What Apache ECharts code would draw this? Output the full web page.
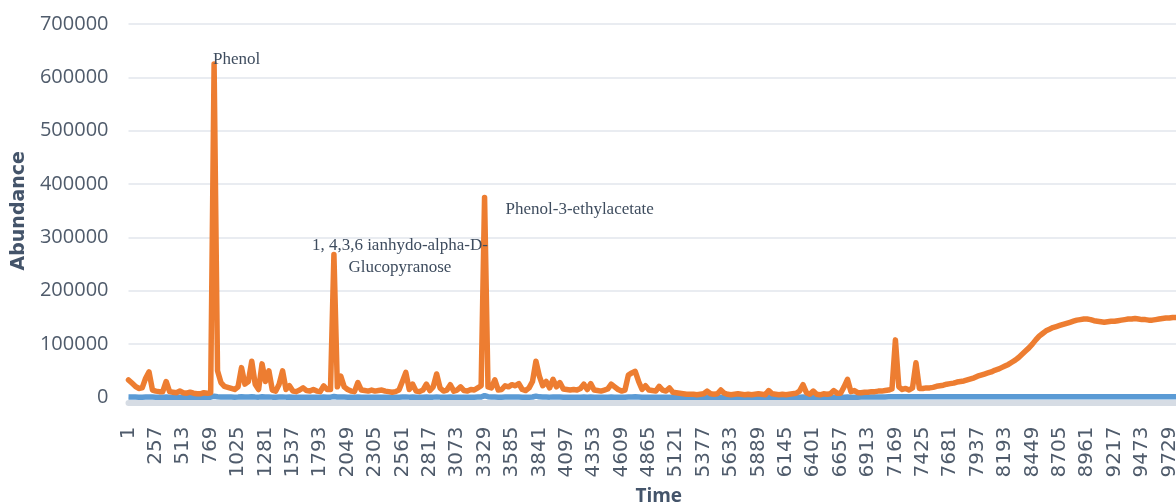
<!DOCTYPE html>
<html>
<head>
<meta charset="utf-8">
<script src="https://cdn.jsdelivr.net/npm/echarts@6/dist/echarts.min.js"></script>
<style>html,body{margin:0;padding:0;background:#fff;}#c{width:1176px;height:504px;}</style>
</head>
<body>
<div id="c"></div>
<script>
// sample grid of the time axis (every 32nd scan, starting at scan 1)
const timeStart = 1;
const timeStep = 32;
const sampleCount = 309;

// tick labels shown on the time axis
const tickLabels = [1,257,513,769,1025,1281,1537,1793,2049,2305,2561,2817,3073,3329,3585,3841,4097,4353,4609,4865,5121,5377,5633,5889,6145,6401,6657,6913,7169,7425,7681,7937,8193,8449,8705,8961,9217,9473,9729];

// orange series (abundance), one value per sample
const abundanceA = [
  33000, 27000, 21000, 17000, 18000, 36000, 48000, 14000, 12000, 11000,
  11000, 30000, 11000, 10000, 9000, 12000, 9000, 8000, 10000, 8000,
  7000, 7000, 9000, 8000, 9000, 625000, 50000, 28000, 21000, 19000,
  17000, 15000, 20000, 56000, 25000, 30000, 68000, 25000, 15000, 63000,
  30000, 50000, 14000, 12000, 25000, 50000, 15000, 22000, 12000, 11000,
  14000, 18000, 13000, 12000, 15000, 12000, 11000, 22000, 15000, 15000,
  268000, 20000, 40000, 20000, 15000, 12000, 11000, 28000, 14000, 13000,
  12000, 14000, 12000, 13000, 14000, 12000, 11000, 10000, 11000, 14000,
  30000, 47000, 15000, 25000, 12000, 11000, 14000, 25000, 13000, 20000,
  44000, 18000, 12000, 14000, 24000, 12000, 14000, 20000, 13000, 12000,
  15000, 14000, 18000, 22000, 375000, 20000, 18000, 33000, 14000, 15000,
  22000, 20000, 24000, 22000, 26000, 15000, 13000, 18000, 30000, 68000,
  40000, 22000, 30000, 18000, 34000, 20000, 28000, 16000, 15000, 14000,
  15000, 14000, 17000, 25000, 15000, 26000, 14000, 13000, 12000, 14000,
  16000, 25000, 20000, 15000, 12000, 14000, 42000, 46000, 49000, 30000,
  15000, 22000, 14000, 13000, 12000, 21000, 14000, 12000, 18000, 10000,
  9000, 8000, 7000, 6000, 6000, 6000, 5000, 6000, 7000, 12000,
  7000, 6000, 7000, 14000, 8000, 6000, 5000, 6000, 7000, 6000,
  5000, 6000, 5000, 6000, 7000, 6000, 5000, 13000, 7000, 6000,
  5000, 6000, 5000, 6000, 7000, 8000, 12000, 24000, 9000, 6000,
  12000, 6000, 5000, 7000, 6000, 7000, 13000, 8000, 8000, 20000,
  34000, 11000, 13000, 9000, 9000, 10000, 10000, 11000, 11000, 12000,
  12000, 13000, 14000, 16000, 108000, 20000, 15000, 17000, 14000, 18000,
  65000, 17000, 17000, 18000, 18000, 19000, 21000, 22000, 23000, 25000,
  26000, 27000, 29000, 30000, 31000, 33000, 35000, 37000, 40000, 42000,
  44000, 46000, 48000, 51000, 53000, 56000, 59000, 62000, 66000, 70000,
  75000, 81000, 87000, 93000, 100000, 108000, 115000, 120000, 125000, 128000,
  131000, 133000, 135000, 137000, 139000, 141000, 143000, 145000, 146000, 147000,
  147000, 146000, 144000, 143000, 142000, 141000, 142000, 143000, 143000, 144000,
  145000, 146000, 147000, 147000, 148000, 147000, 146000, 146000, 145000, 145000,
  146000, 147000, 148000, 149000, 149000, 150000, 150000, 151000, 151000
];

// blue series (baseline), one value per sample
const abundanceB = [
  900, 800, 800, 700, 700, 900, 1000, 800, 700, 700,
  700, 800, 700, 600, 600, 700, 600, 600, 600, 600,
  600, 500, 500, 600, 700, 2500, 1500, 1000, 900, 800,
  800, 700, 800, 1200, 800, 900, 1300, 900, 700, 1200,
  900, 1000, 700, 700, 800, 1000, 700, 800, 700, 600,
  700, 700, 600, 600, 700, 600, 600, 800, 700, 700,
  1800, 800, 1000, 800, 700, 600, 600, 800, 600, 600,
  600, 700, 600, 600, 600, 600, 500, 500, 600, 600,
  800, 1000, 700, 800, 600, 600, 600, 800, 600, 700,
  1000, 700, 600, 600, 800, 600, 600, 700, 600, 600,
  700, 700, 800, 900, 3500, 1500, 900, 900, 700, 700,
  800, 800, 800, 800, 900, 700, 600, 700, 900, 2500,
  1200, 800, 900, 700, 1000, 800, 900, 700, 700, 600,
  700, 600, 700, 800, 700, 800, 600, 600, 600, 600,
  700, 800, 700, 700, 600, 600, 1000, 1100, 1200, 900,
  700, 700, 600, 600, 600, 700, 600, 600, 600, 500,
  500, 500, 400, 400, 400, 400, 400, 500, 500, 600,
  500, 400, 500, 600, 500, 400, 400, 400, 500, 400,
  400, 400, 400, 400, 500, 400, 400, 600, 500, 400,
  400, 400, 400, 400, 500, 500, 600, 800, 500, 400,
  600, 400, 400, 500, 400, 500, 600, 500, 500, 700,
  900, 600, 700, 700, 800, 900, 1000, 1000, 1000, 1100,
  1100, 1100, 1200, 1300, 1500, 1300, 1200, 1200, 1200, 1200,
  1300, 1200, 1200, 1200, 1200, 1200, 1200, 1200, 1200, 1200,
  1200, 1200, 1200, 1200, 1200, 1200, 1200, 1200, 1200, 1200,
  1200, 1200, 1200, 1200, 1200, 1200, 1200, 1200, 1200, 1200,
  1200, 1200, 1200, 1200, 1200, 1200, 1200, 1200, 1200, 1200,
  1200, 1200, 1200, 1200, 1200, 1200, 1200, 1200, 1200, 1200,
  1200, 1200, 1200, 1200, 1200, 1200, 1200, 1200, 1200, 1200,
  1200, 1200, 1200, 1200, 1200, 1200, 1200, 1200, 1200, 1200,
  1200, 1200, 1200, 1200, 1200, 1200, 1200, 1200, 1200
];

// peak annotations
const peakNames = ['Phenol', '1, 4,3,6 ianhydo-alpha-D-\nGlucopyranose', 'Phenol-3-ethylacetate'];
const peakIndex = [25, 60, 104];

const categories = [];
for (let i = 0; i < sampleCount; i++) categories.push(String(timeStart + i * timeStep));
const tickSet = new Set(tickLabels.map(String));

const labelColor = '#4F5B6B';
const annColor = '#3E4C5E';
const annStyles = [
  {align: 'left', verticalAlign: 'middle', offset: [-1, -4]},
  {align: 'center', verticalAlign: 'middle', offset: [66, 2], lineHeight: 22},
  {align: 'left', verticalAlign: 'middle', offset: [21, 12]}
];

const markData = peakIndex.map((idx, k) => ({
  coord: [idx, abundanceA[idx]],
  symbol: 'circle',
  symbolSize: 0,
  label: Object.assign({
    show: true,
    position: 'inside',
    formatter: peakNames[k],
    color: annColor,
    fontFamily: '"Liberation Serif", "Times New Roman", serif',
    fontSize: 17
  }, annStyles[k])
}));

const chart = echarts.init(document.getElementById('c'), null, {renderer: 'canvas'});
chart.setOption({
  animation: false,
  backgroundColor: '#ffffff',
  grid: {left: 128.5, right: -7, top: 24, bottom: 106.5, containLabel: false, outerBoundsMode: 'none'},
  xAxis: {
    type: 'category',
    data: categories,
    boundaryGap: false,
    offset: 5,
    name: 'Time',
    nameLocation: 'middle',
    nameGap: 85,
    nameTextStyle: {color: '#44546A', fontWeight: 'bold', fontSize: 19, fontFamily: '"Open Sans", sans-serif', padding: [0, 0, 0, 6]},
    axisLine: {onZero: false, lineStyle: {color: '#D6DCE4', width: 6}},
    axisTick: {show: false},
    axisLabel: {
      interval: (i, v) => tickSet.has(v),
      rotate: 90,
      margin: 24,
      color: labelColor,
      fontSize: 20,
      fontFamily: '"DejaVu Sans", sans-serif'
    },
    splitLine: {show: false}
  },
  yAxis: {
    type: 'value',
    min: 0,
    max: 700000,
    interval: 100000,
    name: 'Abundance',
    nameLocation: 'middle',
    nameGap: 94,
    nameTextStyle: {color: '#44546A', fontWeight: 'bold', fontSize: 19, fontFamily: '"DejaVu Sans", sans-serif'},
    axisLine: {show: false},
    axisTick: {show: false},
    axisLabel: {margin: 20, color: labelColor, fontSize: 20, fontFamily: '"Open Sans", sans-serif', formatter: v => String(v)},
    splitLine: {lineStyle: {color: '#E2E6EC', width: 1.5}}
  },
  series: [
    {
      name: 'B',
      type: 'line',
      data: abundanceB,
      showSymbol: false,
      symbol: 'none',
      z: 2,
      lineStyle: {color: '#5B9BD5', width: 5.5, join: 'round'},
      itemStyle: {color: '#5B9BD5'}
    },
    {
      name: 'A',
      type: 'line',
      data: abundanceA,
      showSymbol: false,
      symbol: 'none',
      z: 3,
      lineStyle: {color: '#ED7D31', width: 5.5, join: 'round', cap: 'round'},
      itemStyle: {color: '#ED7D31'},
      markPoint: {symbol: 'circle', symbolSize: 0, silent: true, data: markData}
    }
  ]
});
</script>
</body>
</html>
